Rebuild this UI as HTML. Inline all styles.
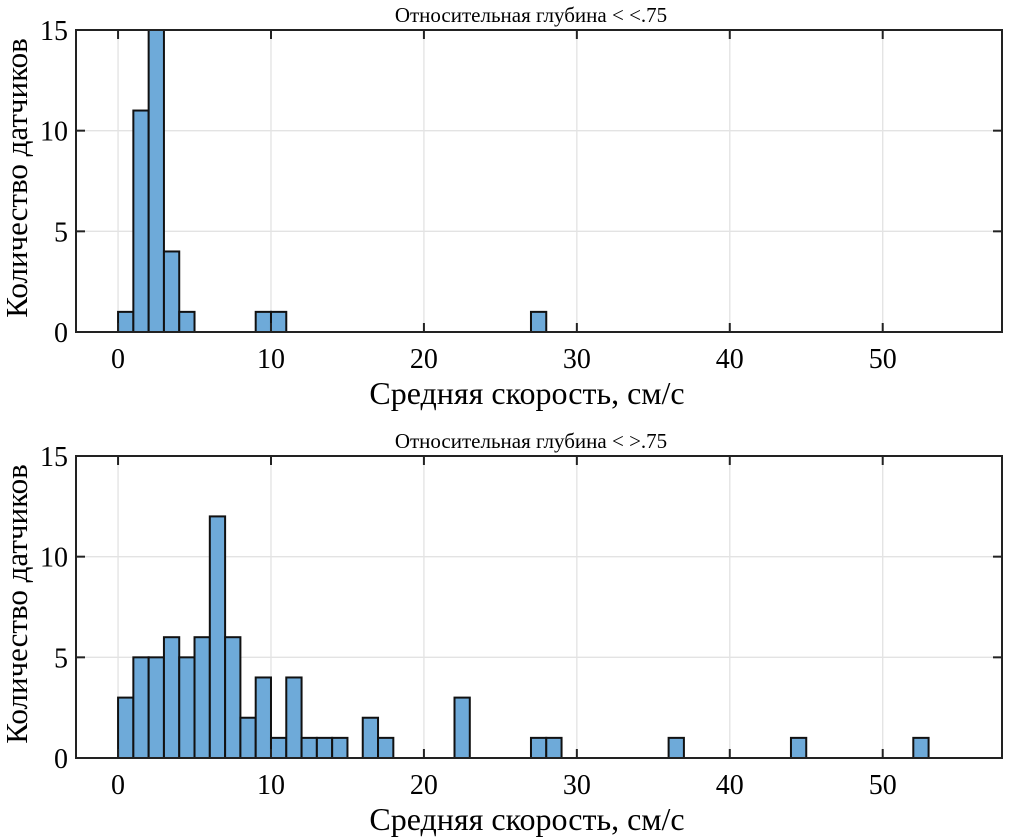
<!DOCTYPE html>
<html><head><meta charset="utf-8"><style>
body{margin:0;background:#fff;}
svg{display:block;font-family:"Liberation Serif","DejaVu Serif",serif;}
</style></head><body>
<svg id="c" width="1010" height="838"></svg>
<script>
const ns="http://www.w3.org/2000/svg";
const topBins=[0,1,2,3,4,9,10,27];
const topCounts=[1,11,15,4,1,1,1,1];
const botBins=[0,1,2,3,4,5,6,7,8,9,10,11,12,13,14,16,17,22,27,28,36,44,52];
const botCounts=[3,5,5,6,5,6,12,6,2,4,1,4,1,1,1,2,1,3,1,1,1,1,1];
const xTicks=[0,10,20,30,40,50];
const yTicks=[0,5,10,15];
const titles=["Относительная глубина < <.75","Относительная глубина < >.75"];
const svg=document.getElementById('c');
function el(t,a,p){const e=document.createElementNS(ns,t);for(const k in a)e.setAttribute(k,a[k]);(p||svg).appendChild(e);return e;}
const L=76,R=1002,xmin=-2.75,xmax=57.8;
const X=v=>L+(v-xmin)/(xmax-xmin)*(R-L);
function panel(top,bot,bins,counts,title,idx){
  const g=el('g',{});
  
  
  const Y=v=>bot-v/15*(bot-top);
  xTicks.forEach(t=>{const l=el('line',{x1:X(t),x2:X(t),y1:top,y2:bot,stroke:'#e3e3e3','stroke-width':1.3},g);});
  yTicks.forEach(t=>{const l=el('line',{x1:L,x2:R,y1:Y(t),y2:Y(t),stroke:'#e3e3e3','stroke-width':1.3},g);});
  bins.forEach((b,i)=>{const r=el('rect',{x:X(b),y:Y(counts[i]),width:X(b+1)-X(b),height:Y(0)-Y(counts[i]),fill:'#6eaad9',stroke:'#111','stroke-width':2},g);});
  const f=el('rect',{x:L,y:top,width:R-L,height:bot-top,fill:'none',stroke:'#222','stroke-width':2},g);
  
  xTicks.forEach(t=>{el('line',{x1:X(t),x2:X(t),y1:bot,y2:bot-9,stroke:'#222','stroke-width':2},g);el('line',{x1:X(t),x2:X(t),y1:top,y2:top+9,stroke:'#222','stroke-width':2},g);
    const tx=el('text',{x:X(t),y:bot+36,'font-size':28,'text-anchor':'middle',fill:'#000'},g);tx.textContent=t;});
  yTicks.forEach(t=>{el('line',{x1:L,x2:L+9,y1:Y(t),y2:Y(t),stroke:'#222','stroke-width':2},g);el('line',{x1:R,x2:R-9,y1:Y(t),y2:Y(t),stroke:'#222','stroke-width':2},g);
    const tx=el('text',{x:L-8,y:Y(t)+10,'font-size':28,'text-anchor':'end',fill:'#000'},g);tx.textContent=t;});
  const ti=el('text',{x:(L+R)/2-8,y:top-8,'font-size':21,'text-anchor':'middle',fill:'#000'},g);ti.textContent=title;
  const xl=el('text',{x:(L+R)/2-12,y:bot+72,'font-size':32,'text-anchor':'middle',fill:'#000'},g);xl.textContent='Средняя скорость, см/с';
  const cy=(top+bot)/2-3;
  const yl=el('text',{x:0,y:0,'font-size':31,'text-anchor':'middle',fill:'#000',transform:`translate(27,${cy}) rotate(-90)`},g);yl.textContent='Количество датчиков';
}
panel(30,332,topBins,topCounts,titles[0],0);
panel(456,758,botBins,botCounts,titles[1],1);
</script>
</body></html>
